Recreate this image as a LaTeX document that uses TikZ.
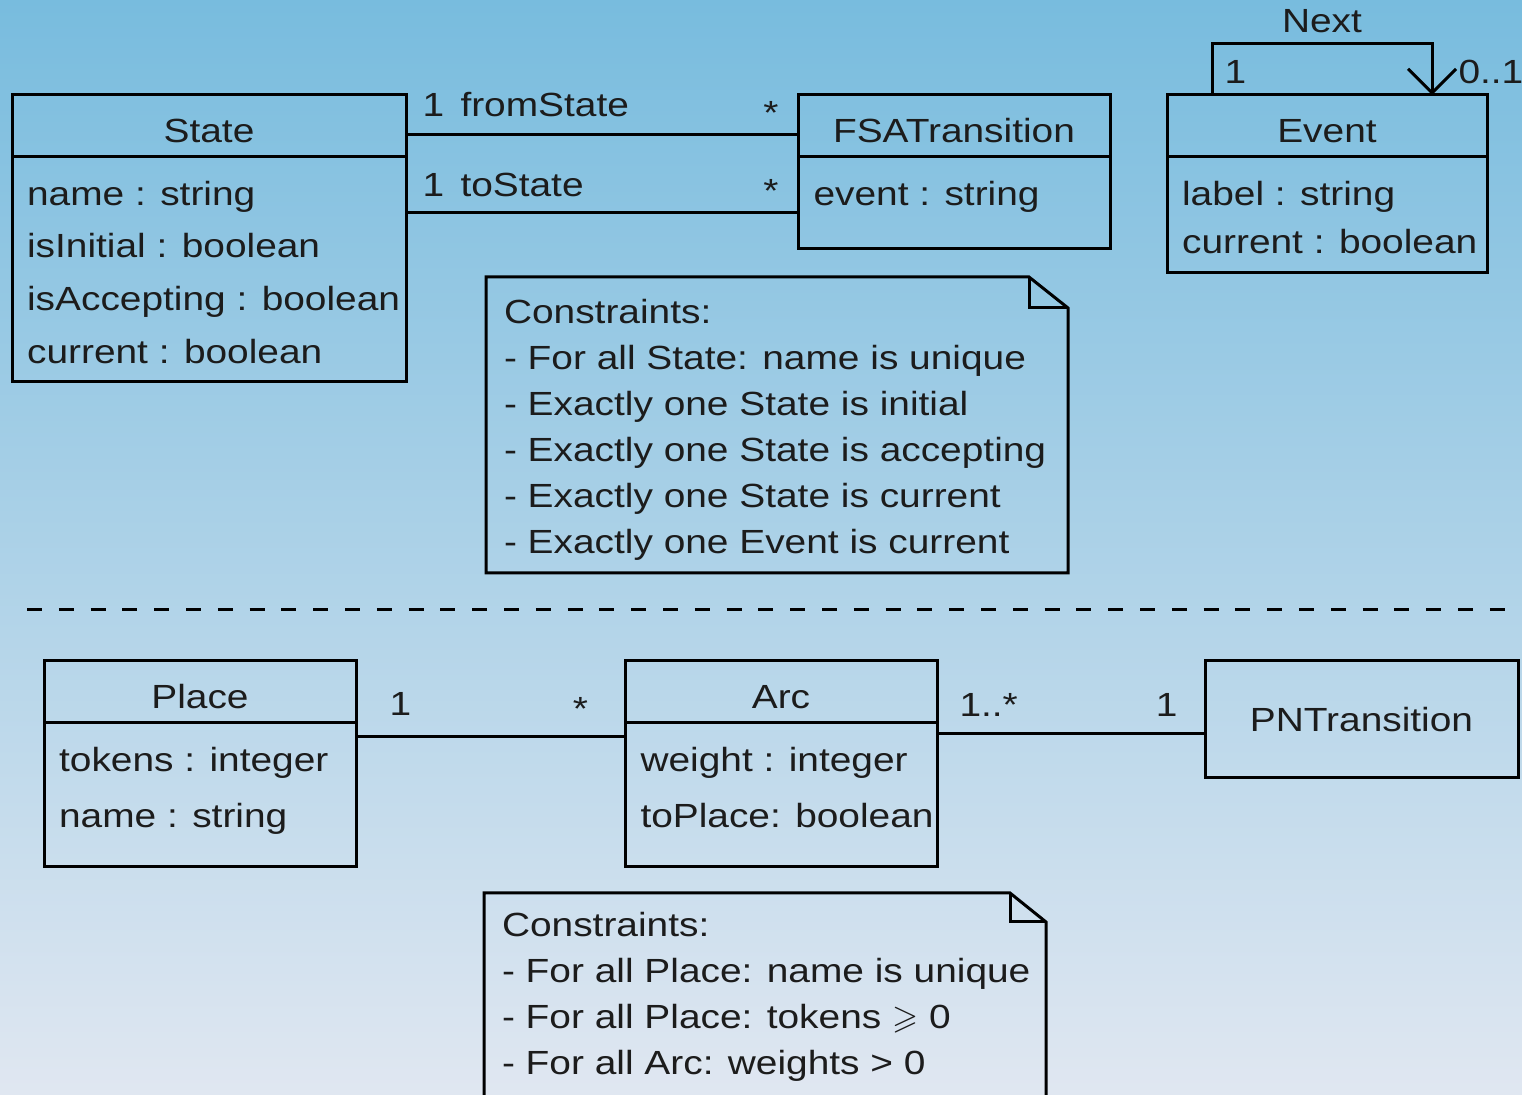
\documentclass[tikz,border=0pt]{standalone}
\usepackage{amssymb}
\usepackage{fontspec}
\setmainfont{Liberation Sans}[FakeStretch=1.16]
\usetikzlibrary{positioning}
\usetikzlibrary{calc}
\usetikzlibrary{arrows.meta}

\definecolor{bgtop}{HTML}{78BCDE}
\definecolor{bgmid}{HTML}{A8C0E7}
\definecolor{bgbottom}{HTML}{E0E7F1}
\definecolor{ink}{HTML}{1C1C1C}

\begin{document}
\begin{tikzpicture}[x=0.5pt, y=-0.5pt, line width=1.5pt, text=ink,
    font=\fontsize{16.75pt}{23pt}\selectfont]
      \tikzstyle{head} = [draw, outer sep=0pt, inner sep=0pt, minimum height=31pt, text height=16.7pt, text depth=0pt]
      \tikzstyle{body} = [draw, outer sep=0pt, inner sep=0pt]
      \tikzstyle{mult} = [inner sep=0pt]
      \tikzstyle{assoc} = [draw]
      \tikzstyle{notebox} = [outer sep=0pt, inner sep=0pt]
      \tikzstyle{notetext} = [align=left, inner sep=0pt]
      \tikzstyle{separator} = [dash pattern=on 7.5pt off 8.4pt]
      \tikzset{attrs/.style={align=left, inner sep=0pt, font=\fontsize{16.75pt}{#1}\selectfont}}

      \useasboundingbox (0,0) rectangle (1522,1095);
      \clip (0,0) rectangle (1522,1095);
      \shade[top color=bgtop, middle color=bgmid, bottom color=bgbottom] (0,0) rectangle (1522,1095);

      % finite state automaton
      \node (state) [head, minimum width=197pt] at (209,126) {State};
      \node (stateBody) [body, minimum width=197pt, minimum height=112.5pt, below=0pt of state] {};
      \node (stateAttr) [attrs=26.3pt, below right=11.25pt and 6.8pt of stateBody.north west]
        {name : string\\isInitial : boolean\\isAccepting : boolean\\current : boolean};

      \node (fsa) [head, minimum width=156pt] at (954,126) {FSATransition};
      \node (fsaBody) [body, minimum width=156pt, minimum height=46pt, below=0pt of fsa] {};
      \node (fsaAttr) [attrs=23pt, below right=11.25pt and 7pt of fsaBody.north west] {event : string};

      \node (event) [head, minimum width=160pt] at (1327,126) {Event};
      \node (eventBody) [body, minimum width=160pt, minimum height=58pt, below=0pt of event] {};
      \node (eventAttr) [attrs=24pt, below right=11.25pt and 6.8pt of eventBody.north west]
        {label : string\\current : boolean};

      \draw[assoc] ([yshift=-20pt]state.north east) -- ([yshift=-20pt]fsa.north west)
        node[mult, at start, anchor=base west, xshift=7.5pt, yshift=9pt] (fromOne) {1}
        node[mult, at start, anchor=base west, xshift=26.5pt, yshift=9pt] (fromName) {fromState}
        node[mult, at end, anchor=base east, xshift=-9pt, yshift=5pt] (fromMany) {*};
      \draw[assoc] ([yshift=-28pt]stateBody.north east) -- ([yshift=-28pt]fsaBody.north west)
        node[mult, at start, anchor=base west, xshift=7.5pt, yshift=8pt] (toOne) {1}
        node[mult, at start, anchor=base west, xshift=26.5pt, yshift=8pt] (toName) {toState}
        node[mult, at end, anchor=base east, xshift=-9pt, yshift=5pt] (toMany) {*};

      \coordinate (loopStart) at ([xshift=22.5pt]event.north west);
      \coordinate (loopEnd) at ([xshift=-27.5pt]event.north east);
      \draw[assoc, -{Straight Barb[length=12pt, width=24pt]}] (loopStart) -- ++(0,-51) coordinate (loopTop)
        -- (loopTop -| loopEnd) node[mult, midway, above=5pt] (nextLabel) {Next} -- (loopEnd);
      \node (loopOne) [mult, anchor=base west, xshift=5.5pt, yshift=5.5pt] at (loopStart) {1};
      \node (loopMany) [mult, anchor=base west, xshift=12.5pt, yshift=5.5pt] at (loopEnd) {0..1};

      \node (note1) [notebox, minimum width=291pt, minimum height=148pt] at (777,425) {};
      \draw (note1.north west) -- ([xshift=-19.5pt]note1.north east) -- ([yshift=-15.5pt]note1.north east)
        -- (note1.south east) -- (note1.south west) -- cycle;
      \draw ([xshift=-19.5pt]note1.north east) |- ([yshift=-15.5pt]note1.north east);
      \node (note1text) [notetext, below right=10.25pt and 8.25pt of note1.north west]
        {Constraints:\\- For all State: name is unique\\- Exactly one State is initial\\- Exactly one State is accepting\\- Exactly one State is current\\- Exactly one Event is current};

      \draw[separator] (27,610) -- (1505,610);

      % petri net
      \node (place) [head, minimum width=156pt] at (200,692) {Place};
      \node (placeBody) [body, minimum width=156pt, minimum height=72pt, below=0pt of place] {};
      \node (placeAttr) [attrs=28pt, below right=11.25pt and 6.8pt of placeBody.north west]
        {tokens : integer\\name : string};

      \node (arc) [head, minimum width=156pt] at (781,692) {Arc};
      \node (arcBody) [body, minimum width=156pt, minimum height=72pt, below=0pt of arc] {};
      \node (arcAttr) [attrs=28pt, below right=11.25pt and 7pt of arcBody.north west]
        {weight : integer\\toPlace: boolean};

      \node (pn) [draw, outer sep=0pt, minimum width=156.5pt, minimum height=58.5pt] at (1361.5,719.5) {PNTransition};

      \draw[assoc] ([yshift=-7pt]placeBody.north east) -- ([yshift=-7pt]arcBody.north west)
        node[mult, at start, anchor=base west, xshift=16pt, yshift=10.5pt] (placeOne) {1}
        node[mult, at end, anchor=base east, xshift=-17.75pt, yshift=8pt] (placeMany) {*};
      \draw[assoc] ([yshift=-5.5pt]arcBody.north east) coordinate (arcOut) -- (arcOut -| pn.west)
        node[mult, at start, anchor=base west, xshift=10.5pt, yshift=8.5pt] (arcMany) {1..*}
        node[mult, at end, anchor=base east, xshift=-13pt, yshift=8.5pt] (arcOne) {1};

      \node (note2) [notebox, minimum width=281pt, minimum height=115pt] at (765,1008) {};
      \draw (note2.north west) -- ([xshift=-18pt]note2.north east) -- ([yshift=-14.5pt]note2.north east)
        -- (note2.south east) -- (note2.south west) -- cycle;
      \draw ([xshift=-18pt]note2.north east) |- ([yshift=-14.5pt]note2.north east);
      \node (note2text) [notetext, below right=8.75pt and 8.25pt of note2.north west]
        {Constraints:\\- For all Place: name is unique\\- For all Place: tokens $\geqslant$ 0\\- For all Arc: weights > 0};
    \end{tikzpicture}
\end{document}
